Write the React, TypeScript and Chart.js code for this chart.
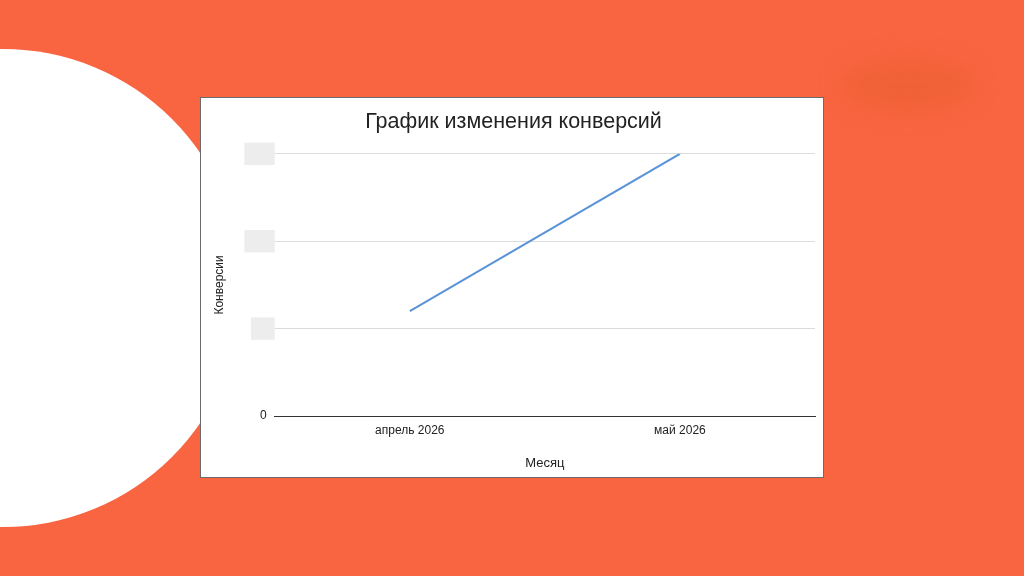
import React, { useEffect, useRef } from "react";
import { Chart, registerables } from "chart.js";

Chart.register(...registerables);

const months = ["апрель 2026", "май 2026"];
const conversions = [6, 15];
const yMax = 15;
const yStep = 5;
const chartTitle = "График изменения конверсий";
const xTitle = "Месяц";
const yTitle = "Конверсии";

export default function App() {
  const ref = useRef<HTMLCanvasElement | null>(null);

  useEffect(() => {
    if (!ref.current) return;
    Chart.defaults.font.family = "'Liberation Sans', Arial, sans-serif";
    const chart = new Chart(ref.current, {
      type: "line",
      data: {
        labels: months,
        datasets: [
          {
            data: conversions,
            borderColor: "#5a93d8",
            borderWidth: 2,
            pointRadius: 0,
            tension: 0,
            fill: false,
          },
        ],
      },
      options: {
        animation: false,
        responsive: false,
        maintainAspectRatio: false,
        layout: { padding: { top: 1, left: 11, right: 8, bottom: 6 } },
        plugins: {
          legend: { display: false },
          tooltip: { enabled: false },
          title: {
            display: true,
            text: chartTitle,
            color: "#222",
            font: { size: 21.5, weight: "normal" },
            padding: { top: 10, bottom: 19 },
          },
        },
        scales: {
          x: {
            offset: true,
            grid: { display: false, drawTicks: false },
            border: { display: true, color: "#333", width: 1 },
            ticks: { color: "#222", font: { size: 12 }, padding: 7, maxRotation: 0 },
            title: {
              display: true,
              text: xTitle,
              color: "#222",
              font: { size: 13 },
              padding: { top: 11, bottom: 0 },
            },
          },
          y: {
            min: 0,
            max: yMax,
            grid: { color: "#dcdcdc", drawTicks: false },
            border: { display: false },
            ticks: {
              stepSize: yStep,
              padding: 8,
              font: { size: 12 },
              color: (c: any) => (c.tick && c.tick.value === 0 ? "#222" : "#ededed"),
              showLabelBackdrop: (c: any) => !(c.tick && c.tick.value === 0),
              backdropColor: "#ededed",
              backdropPadding: { x: 9, y: 4 },
            },
            title: {
              display: true,
              text: yTitle,
              color: "#222",
              font: { size: 12 },
              padding: { top: 0, bottom: 19 },
            },
          },
        },
      },
    });
    return () => chart.destroy();
  }, []);

  return (
    <div
      style={{
        position: "fixed",
        left: 0,
        top: 0,
        width: 1024,
        height: 576,
        background: "#f96541",
        overflow: "hidden",
      }}
    >
      <div
        style={{
          position: "absolute",
          left: 3 - 239,
          top: 288 - 239,
          width: 478,
          height: 478,
          borderRadius: "50%",
          background: "#ffffff",
        }}
      />
      <div
        style={{
          position: "absolute",
          left: 840,
          top: 58,
          width: 135,
          height: 55,
          borderRadius: "50%",
          background: "rgba(235, 95, 50, 0.55)",
          filter: "blur(10px)",
        }}
      />
      <div
        style={{
          position: "absolute",
          left: 200,
          top: 97,
          width: 622,
          height: 379,
          background: "#ffffff",
          border: "1px solid #6b6b6b",
        }}
      >
        <canvas ref={ref} width={622} height={379} style={{ display: "block", width: 622, height: 379 }} />
      </div>
    </div>
  );
}
